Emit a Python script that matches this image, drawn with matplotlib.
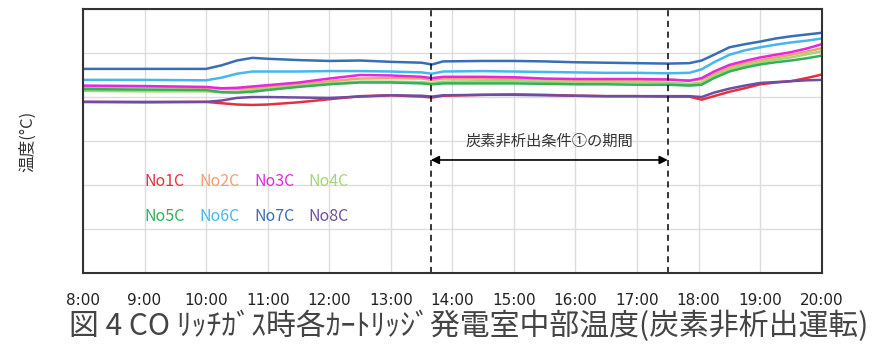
import matplotlib
matplotlib.use("Agg")
import matplotlib.pyplot as plt

plt.rcParams['font.family'] = ['Noto Sans CJK JP', 'DejaVu Sans']

# time in hours (8:00 - 20:00)
hours = [8.0, 9.0, 10.0, 10.25, 10.5, 10.75, 11.0, 11.5, 12.0, 12.5, 13.0,
         13.5, 13.67, 13.85, 14.5, 15.0, 15.5, 16.0, 16.5, 17.0, 17.5,
         17.85, 18.05, 18.25, 18.5, 18.75, 19.0, 19.25, 19.5, 19.75, 20.0]

no1c = [38.9, 38.8, 38.9, 38.6, 38.3, 38.2, 38.3, 38.8, 39.5, 40.2, 40.4,
        40.1, 39.9, 40.3, 40.5, 40.6, 40.5, 40.3, 40.2, 40.2, 40.1,
        40.1, 39.4, 40.2, 41.2, 42.0, 42.9, 43.3, 43.6, 44.3, 45.1]
no2c = [42.3, 42.3, 42.1, 41.8, 41.8, 42.0, 42.3, 42.9, 43.6, 44.2, 44.3,
        44.2, 43.9, 44.2, 44.2, 44.1, 44.0, 43.9, 43.9, 43.9, 43.9,
        43.8, 44.0, 45.3, 46.8, 47.7, 48.4, 49.0, 49.6, 50.3, 51.1]
no3c = [42.6, 42.5, 42.3, 42.0, 42.1, 42.4, 42.7, 43.3, 44.2, 45.0, 44.9,
        44.6, 44.3, 44.6, 44.6, 44.5, 44.2, 44.1, 44.1, 44.1, 44.0,
        43.7, 44.3, 45.8, 47.3, 48.2, 49.0, 49.6, 50.2, 51.0, 52.0]
no4c = [41.4, 41.3, 41.3, 41.1, 41.2, 41.5, 41.9, 42.5, 43.1, 43.5, 43.5,
        43.4, 43.2, 43.5, 43.6, 43.6, 43.5, 43.4, 43.4, 43.4, 43.3,
        43.0, 43.3, 44.8, 46.3, 47.2, 47.9, 48.5, 49.0, 49.7, 50.4]
no5c = [41.8, 41.7, 41.6, 41.1, 41.0, 41.2, 41.6, 42.3, 42.9, 43.3, 43.3,
        43.1, 42.9, 43.1, 43.1, 43.1, 43.0, 42.9, 42.9, 42.8, 42.8,
        42.6, 42.8, 44.3, 45.8, 46.7, 47.4, 47.9, 48.3, 48.8, 49.4]
no6c = [43.9, 43.9, 43.8, 44.4, 45.3, 45.8, 45.8, 45.8, 45.9, 45.9, 45.8,
        45.6, 45.3, 45.8, 45.9, 45.8, 45.7, 45.6, 45.5, 45.5, 45.4,
        45.5, 46.3, 47.9, 49.6, 50.6, 51.3, 51.9, 52.4, 52.8, 53.3]
no7c = [46.4, 46.4, 46.4, 47.2, 48.3, 48.9, 48.7, 48.4, 48.2, 48.3, 48.0,
        47.8, 47.4, 48.1, 48.2, 48.2, 48.1, 47.9, 47.8, 47.7, 47.6,
        47.7, 48.3, 49.6, 51.3, 52.0, 52.6, 53.3, 53.8, 54.2, 54.6]
no8c = [38.9, 38.9, 38.9, 39.2, 39.8, 40.0, 40.0, 39.9, 39.8, 40.1, 40.4,
        40.3, 40.1, 40.4, 40.5, 40.5, 40.4, 40.3, 40.2, 40.2, 40.2,
        40.2, 40.0, 41.0, 41.9, 42.6, 43.2, 43.4, 43.6, 43.8, 43.9]

names = ["No1C", "No2C", "No3C", "No4C", "No5C", "No6C", "No7C", "No8C"]
series = [no1c, no2c, no3c, no4c, no5c, no6c, no7c, no8c]
colors = ["#e8303c", "#f0a070", "#e428e0", "#a8d474",
          "#34b058", "#44b8ee", "#3a6eb4", "#6e4ea2"]

tick_hours = list(range(8, 21))
tick_labels = [f"{h}:00" for h in tick_hours]

period_start = 13.65
period_end = 17.5
period_label = "炭素非析出条件①の期間"
caption = "図 4 CO ﾘｯﾁｶﾞｽ時各ｶｰﾄﾘｯｼﾞ発電室中部温度(炭素非析出運転)"

fig = plt.figure(figsize=(8.76, 3.47), dpi=100)
ax = fig.add_axes([0.0947, 0.213, 0.8433, 0.761])

lines = []
for name, ys, c in zip(names, series, colors):
    ln, = ax.plot(hours, ys, color=c, lw=1.8, label=name)
    lines.append(ln)

ax.set_xlim(8, 20)
ax.set_ylim(0, 60)
ax.set_xticks(tick_hours)
ax.set_xticklabels(tick_labels, fontsize=11, color="#222222",
                   family=['Liberation Sans Narrow', 'DejaVu Sans'])
ax.set_yticks(range(0, 61, 10))
ax.set_yticklabels([])
ax.tick_params(length=0, pad=14)
ax.grid(True, color="#dcdcdc", lw=1.0)
ax.set_axisbelow(True)
for sp in ax.spines.values():
    sp.set_color("#333333")
    sp.set_linewidth(1.5)

ax.set_ylabel("温度(°C)", fontsize=12, color="#333333", labelpad=20)

for xv in (period_start, period_end):
    ax.axvline(xv, color="black", ls=(0, (4, 3)), lw=1.1)
ax.annotate("", xy=(period_start, 25.7), xytext=(period_end, 25.7),
            arrowprops=dict(arrowstyle="<|-|>", color="black", lw=1.2,
                            shrinkA=0, shrinkB=0, mutation_scale=12))
ax.text((period_start + period_end) / 2, 30.0, period_label,
        ha="center", va="center", fontsize=11, color="#333333")

# legend: row 1 = No1C..No4C, row 2 = No5C..No8C
order = [0, 4, 1, 5, 2, 6, 3, 7]
leg = ax.legend([lines[i] for i in order], [names[i] for i in order],
                ncol=4, loc="upper left", bbox_to_anchor=(0.064, 0.435),
                frameon=False, handlelength=0, handletextpad=0,
                columnspacing=0.9, labelspacing=1.15, fontsize=11.5,
                labelcolor="linecolor")
for h in leg.legend_handles:
    h.set_visible(False)

fig.text(0.535, 0.06, caption, ha="center", va="center", fontsize=21.5,
         color="#444444")

fig.savefig("out.png", dpi=100)
